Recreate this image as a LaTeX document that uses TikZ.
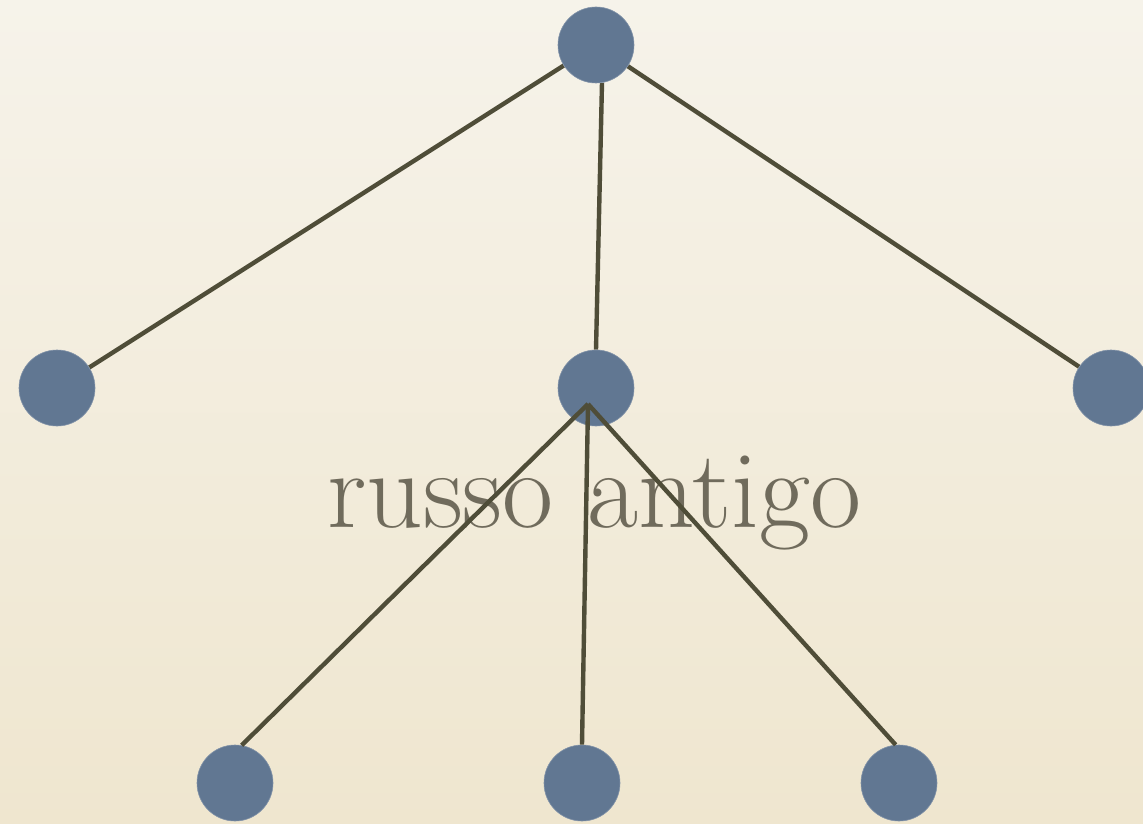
\documentclass[tikz,border=0pt]{standalone}
\definecolor{bgtop}{HTML}{F6F3EA}
\definecolor{bgbot}{HTML}{EFE6CF}
\definecolor{nodefill}{HTML}{617792}
\definecolor{edgecol}{HTML}{4F4D38}
\definecolor{textcol}{HTML}{706B5C}
\pgfdeclarelayer{bglayer}
\pgfdeclarelayer{edgelayer}
\pgfdeclarelayer{frontlayer}
\pgfsetlayers{bglayer,edgelayer,main,frontlayer}
\tikzset{
  dot/.style={circle, fill=nodefill, minimum size=76pt, inner sep=0pt, draw=nodefill!80!white, line width=0.6pt},
  edge/.style={draw=edgecol, line width=4.4pt},
  lbl/.style={text=textcol, font=\fontsize{111}{116}\selectfont, inner sep=0pt}
}
\begin{document}
\begin{tikzpicture}[x=1pt,y=-1pt]
  \begin{pgfonlayer}{bglayer}
    \shade[top color=bgtop, bottom color=bgbot] (0,0) rectangle (1143,824);
    \node[lbl, anchor=base] (title) at (594,527) {russo antigo};
  \end{pgfonlayer}
  \useasboundingbox (0,0) rectangle (1143,824);
  \node[dot] (top) at (596,45) {};
  \node[dot] (left) at (57,388) {};
  \node[dot] (mid) at (596,388) {};
  \node[dot] (right) at (1111,388) {};
  \node[dot] (bl) at (235,783) {};
  \node[dot] (bm) at (582,783) {};
  \node[dot] (br) at (899,783) {};
  \coordinate (hub) at (588,404);
  \begin{pgfonlayer}{edgelayer}
    \path[edge] (top) -- (left);
    \path[edge] (top.-81) -- (mid.north);
    \path[edge] (top) -- (right);
  \end{pgfonlayer}
  \begin{pgfonlayer}{frontlayer}
    \path[edge] (hub) -- (bl.80);
    \path[edge] (hub) -- (bm.north);
    \path[edge] (hub) -- (br.95);
  \end{pgfonlayer}
\end{tikzpicture}
\end{document}
